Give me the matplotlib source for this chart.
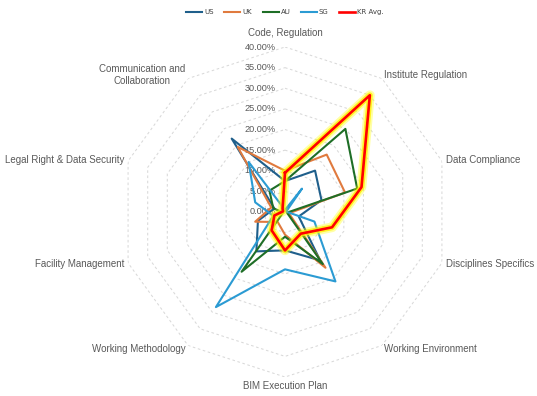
import matplotlib
matplotlib.use("Agg")
import matplotlib.pyplot as plt
import numpy as np
from matplotlib import transforms

# ----------------------------------------------------------------------------
# Dados (participacao % por categoria)
# ----------------------------------------------------------------------------
categorias = [
    "Code, Regulation",
    "Institute Regulation",
    "Data Compliance",
    "Disciplines Specifics",
    "Working Environment",
    "BIM Execution Plan",
    "Working Methodology",
    "Facility Management",
    "Legal Right & Data Security",
    "Communication and\nCollaboration",
]
us = [7.5, 12.4, 9.3, 3.5, 14.5, 9.3, 11.8, 6.9, 2.7, 22.0]
uk = [10.0, 17.2, 15.3, 1.0, 16.7, 5.5, 3.0, 7.6, 3.5, 19.5]
au = [7.5, 24.9, 18.4, 0.5, 15.6, 6.0, 17.9, 0.5, 3.0, 6.4]
sg = [0.5, 7.0, 0.3, 7.5, 20.8, 13.9, 28.5, 3.0, 7.6, 15.0]
kr_avg = [9.5, 35.0, 19.5, 12.0, 6.5, 9.3, 5.5, 2.7, 0.5, 1.0]
niveis = [0, 5, 10, 15, 20, 25, 30, 35, 40]

SERIES = [
    ("US", us, "#1F5F8B"),
    ("UK", uk, "#E07A3E"),
    ("AU", au, "#1E6E26"),
    ("SG", sg, "#2B9BD3"),
]

TXT = "#595959"
FONT = ["Liberation Sans", "DejaVu Sans"]

fig = plt.figure(figsize=(5.37, 3.96), dpi=100)
ax = fig.add_axes([120 / 537, 19 / 396, 330 / 537, 330 / 396], projection="polar")
ax.set_theta_zero_location("N")
ax.set_theta_direction(-1)
ax.set_ylim(0, 40)
ax.grid(False)
ax.spines["polar"].set_visible(False)
ax.set_xticks([])
ax.set_yticks([])
ax.patch.set_alpha(0)

n = len(categorias)
theta = np.arange(n) * 2 * np.pi / n
theta_c = np.append(theta, theta[0])

# grade poligonal tracejada
for r in niveis[1:]:
    ax.plot(theta_c, [r] * (n + 1), color="#D9D9D9", lw=0.75, ls=(0, (2.5, 2.5)), zorder=1)


def fechar(v):
    return list(v) + [v[0]]


for nome, vals, cor in SERIES:
    ax.plot(theta_c, fechar(vals), color=cor, lw=1.5, label=nome, zorder=3)

# KR Avg com brilho amarelo
ax.plot(theta_c, fechar(kr_avg), color="#FFFF00", lw=7.0, alpha=0.35, zorder=4,
        solid_joinstyle="round")
ax.plot(theta_c, fechar(kr_avg), color="#FFF200", lw=4.2, alpha=0.8, zorder=4,
        solid_joinstyle="round")
ax.plot(theta_c, fechar(kr_avg), color="#FF0000", lw=1.9, label="KR Avg.", zorder=5)

# rotulos do eixo radial
off = transforms.offset_copy(ax.transData, fig=fig, x=-6.5, y=0, units="points")
for r in niveis:
    ax.text(0, r, f"{r:.2f}%", transform=off, ha="right", va="center",
            fontsize=6.6, color=TXT, family=FONT, zorder=2)

# rotulos das categorias
for i, (t, lab) in enumerate(zip(theta, categorias)):
    s = np.sin(t)
    c = np.cos(t)
    if abs(s) < 1e-6:
        ha = "center"
    elif s > 0:
        ha = "left"
    else:
        ha = "right"
    if c > 0.99:
        va, r = "bottom", 42.2
    elif c < -0.99:
        va, r = "top", 41.0
    else:
        va, r = "center", 41.0
    ax.text(t, r, lab, ha=ha, va=va, fontsize=7.0, color=TXT, family=FONT,
            multialignment="center")

leg = fig.legend(loc="upper center", bbox_to_anchor=(0.531, 0.993), ncol=5,
                 frameon=False, handlelength=2.3, columnspacing=1.5,
                 handletextpad=0.3,
                 prop={"family": ["Liberation Sans Narrow", "DejaVu Sans"], "size": 5.0})
for t in leg.get_texts():
    t.set_color("#404040")

fig.savefig("out.png", dpi=100)
